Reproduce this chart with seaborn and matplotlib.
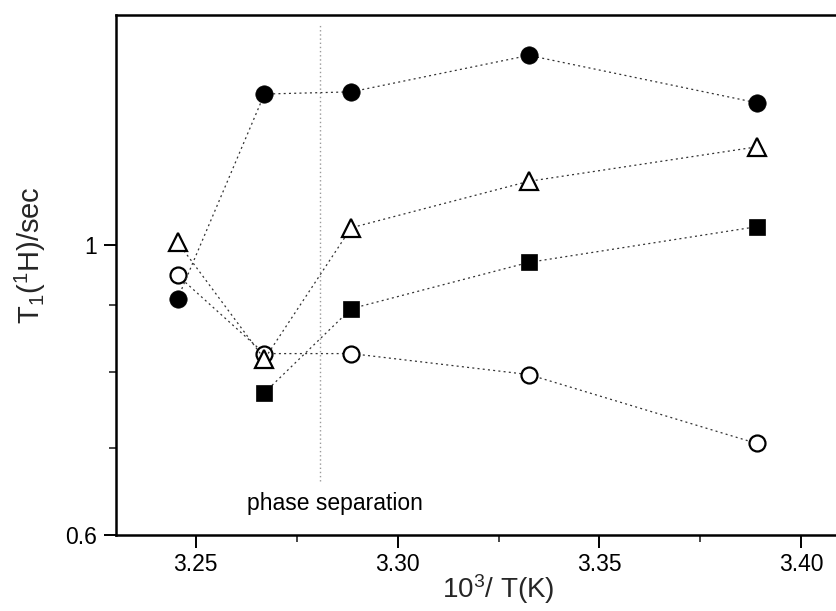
import matplotlib
matplotlib.use("Agg")
import matplotlib.pyplot as plt
import matplotlib.ticker as mticker
import matplotlib.transforms as mtransforms
import seaborn as sns
import pandas as pd

# ---- data ----
x_vals = [3.2455, 3.2670, 3.2885, 3.3325, 3.3890]
filled_circle = [0.910, 1.305, 1.310, 1.397, 1.285]
open_triangle = [1.005, 0.818, 1.031, 1.119, 1.189]
square_x = [3.2670, 3.2885, 3.3325, 3.3890]
filled_square = [0.771, 0.894, 0.970, 1.033]
open_circle = [0.948, 0.826, 0.826, 0.796, 0.705]

phase_x = 3.2807
x_major = [3.25, 3.30, 3.35, 3.40]
x_minor = [3.275, 3.325, 3.375]
y_major = [0.6, 1.0]
y_major_labels = ["0.6", "1"]
y_minor = [0.7, 0.8, 0.9]

sns.set_theme(style="ticks")
plt.rcParams["font.family"] = ["Liberation Sans", "DejaVu Sans"]
plt.rcParams["mathtext.fontset"] = "custom"
plt.rcParams["mathtext.rm"] = "Liberation Sans"

fig = plt.figure(figsize=(8.36, 6.11), dpi=100)
ax = fig.add_axes([115.5 / 836, 1 - 535 / 611, (836 - 115.5) / 836, (535 - 15) / 611])

line_kw = dict(color="#333333", linewidth=0.9, linestyle=(0, (1.6, 2.6)))

series = [
    (x_vals, open_circle, dict(marker="o", markersize=11.5, markerfacecolor="white",
                               markeredgecolor="black", markeredgewidth=1.6)),
    (square_x, filled_square, dict(marker="s", markersize=11.5, markerfacecolor="black",
                                   markeredgecolor="black", markeredgewidth=0.5)),
    (x_vals, open_triangle, dict(marker="^", markersize=13, markerfacecolor="white",
                                 markeredgecolor="black", markeredgewidth=1.6)),
    (x_vals, filled_circle, dict(marker="o", markersize=12.5, markerfacecolor="black",
                                 markeredgecolor="black", markeredgewidth=0.5)),
]
for xs, ys, mk in series:
    df = pd.DataFrame({"x": xs, "y": ys})
    sns.lineplot(data=df, x="x", y="y", ax=ax, **line_kw, **mk)

ax.axvline(phase_x, ymin=0.104, ymax=0.981, color="#9a9a9a", linewidth=1.0,
           linestyle=(0, (1, 2)), zorder=0)
trans = mtransforms.blended_transform_factory(ax.transData, ax.transAxes)
ax.text(3.2627, 0.0615, "phase separation", transform=trans, fontsize=16.5,
        ha="left", va="center", color="black")

ax.set_yscale("log")
ax.set_xlim(3.2301, 3.4086)
ax.set_ylim(0.6, 1.5)

ax.xaxis.set_major_locator(mticker.FixedLocator(x_major))
ax.xaxis.set_major_formatter(mticker.FormatStrFormatter("%.2f"))
ax.xaxis.set_minor_locator(mticker.FixedLocator(x_minor))
ax.yaxis.set_major_locator(mticker.FixedLocator(y_major))
ax.yaxis.set_major_formatter(mticker.FixedFormatter(y_major_labels))
ax.yaxis.set_minor_locator(mticker.FixedLocator(y_minor))
ax.yaxis.set_minor_formatter(mticker.NullFormatter())

ax.tick_params(axis="both", which="major", direction="out", length=9, width=1.4,
               labelsize=16.5, colors="black", pad=4)
ax.tick_params(axis="both", which="minor", direction="out", length=5, width=1.2)
ax.tick_params(axis="x", top=False)
ax.tick_params(axis="y", right=False)

for side in ["left", "bottom", "top"]:
    ax.spines[side].set_linewidth(1.8)
    ax.spines[side].set_color("black")
ax.spines["right"].set_visible(False)

ax.set_xlabel(r"$\mathregular{10^3}$/ T(K)", fontsize=20)
ax.set_ylabel(r"$\mathregular{T_1(^1H)/sec}$", fontsize=21)
ax.xaxis.set_label_coords(0.531, -0.072)
ax.yaxis.set_label_coords(-0.093, 0.538)

fig.savefig("out.png", dpi=100, facecolor="white")
